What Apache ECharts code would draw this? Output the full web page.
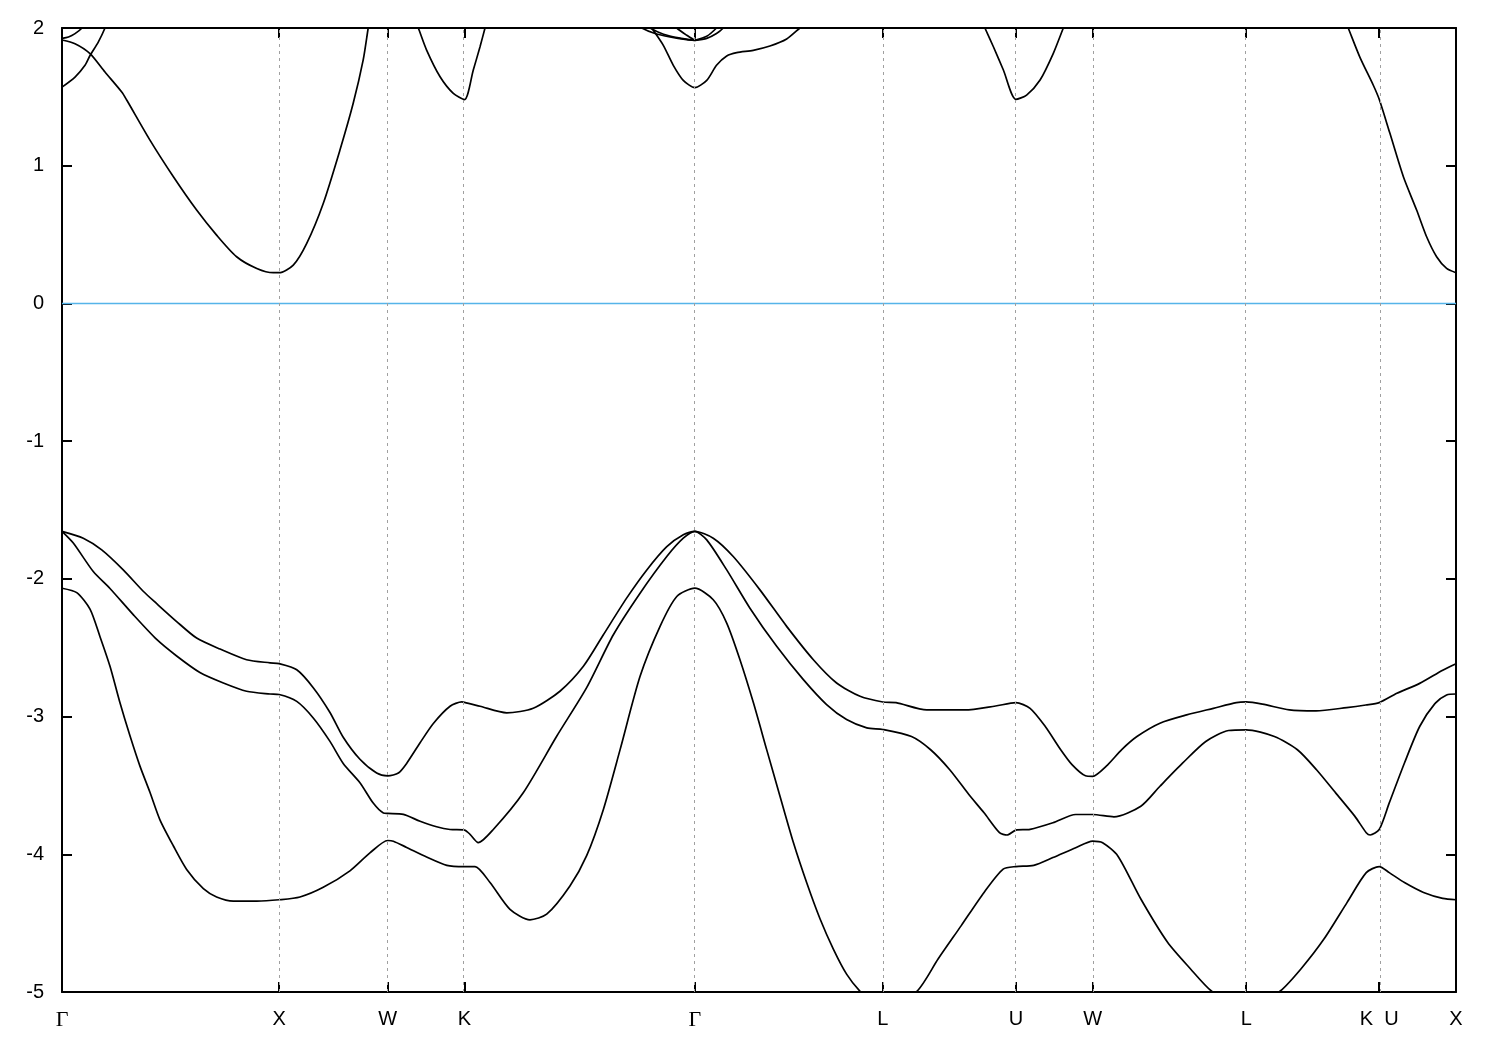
<!DOCTYPE html>
<html><head><meta charset="utf-8">
<script src="https://cdn.jsdelivr.net/npm/echarts@6.0.0/dist/echarts.min.js"></script>
<style>html,body{margin:0;padding:0;background:#fff}#c{width:1500px;height:1050px}</style>
</head><body><div id="c"></div><script>
// High-symmetry k-path positions (2π/a) and labels
const kTicks = [0, 1.0, 1.5, 1.8536, 2.9142, 3.7802, 4.3926, 4.7462, 5.4533, 6.0657, 6.4193];
const kLabels = ['Γ', 'X', 'W', 'K', 'Γ', 'L', 'U', 'W', 'L', 'K  U', 'X'];
const yTicks = [-5, -4, -3, -2, -1, 0, 1, 2];
const fermiLevel = 0;

// Valence bands [k, E(eV)]
const vb1 = [
[0,-1.655],[0.098,-1.705],[0.183,-1.79],[0.282,-1.935],[0.374,-2.09],[0.436,-2.18],[0.528,-2.31],[0.620,-2.43],[0.728,-2.51],[0.850,-2.587],[0.958,-2.61],[1.0,-2.616],
[1.081,-2.66],[1.157,-2.79],[1.234,-2.97],[1.295,-3.15],[1.372,-3.31],[1.449,-3.41],[1.5,-3.43],
[1.549,-3.41],[1.587,-3.34],[1.649,-3.19],[1.710,-3.05],[1.787,-2.925],[1.841,-2.894],[1.8536,-2.897],
[1.925,-2.925],[2.048,-2.973],[2.170,-2.94],[2.293,-2.816],[2.401,-2.635],[2.493,-2.406],[2.600,-2.14],[2.693,-1.935],[2.785,-1.766],[2.861,-1.68],[2.9142,-1.655],
[2.999,-1.705],[3.091,-1.838],[3.214,-2.08],[3.337,-2.345],[3.460,-2.587],[3.567,-2.756],[3.675,-2.853],[3.7802,-2.894],
[3.841,-2.899],[3.982,-2.952],[4.158,-2.952],[4.299,-2.923],[4.3926,-2.899],
[4.458,-2.94],[4.528,-3.072],[4.599,-3.241],[4.651,-3.349],[4.713,-3.43],[4.7462,-3.434],
[4.809,-3.36],[4.880,-3.24],[4.950,-3.145],[5.056,-3.048],[5.179,-2.988],[5.302,-2.94],[5.408,-2.899],[5.4533,-2.894],
[5.528,-2.91],[5.652,-2.952],[5.775,-2.959],[5.916,-2.935],[6.004,-2.916],[6.0657,-2.899],
[6.147,-2.831],[6.252,-2.759],[6.358,-2.663],[6.4193,-2.616]
];
const vb2 = [
[0,-1.655],[0.052,-1.74],[0.144,-1.947],[0.221,-2.07],[0.328,-2.26],[0.436,-2.44],[0.528,-2.56],[0.635,-2.68],[0.743,-2.756],[0.850,-2.816],[0.958,-2.836],[1.0,-2.84],
[1.081,-2.89],[1.157,-3.01],[1.234,-3.18],[1.295,-3.34],[1.372,-3.48],[1.434,-3.63],[1.480,-3.70],[1.5,-3.703],
[1.572,-3.71],[1.649,-3.76],[1.725,-3.80],[1.787,-3.82],[1.8536,-3.824],
[1.879,-3.855],[1.917,-3.915],[1.986,-3.82],[2.124,-3.553],[2.278,-3.143],[2.416,-2.79],[2.539,-2.406],[2.662,-2.104],[2.785,-1.838],[2.861,-1.705],[2.9142,-1.655],
[2.969,-1.717],[3.061,-1.935],[3.168,-2.213],[3.291,-2.49],[3.414,-2.732],[3.521,-2.913],[3.613,-3.022],[3.706,-3.082],[3.7802,-3.094],
[3.912,-3.145],[4.000,-3.241],[4.088,-3.386],[4.176,-3.566],[4.246,-3.699],[4.317,-3.843],[4.352,-3.86],[4.3926,-3.824],
[4.458,-3.819],[4.563,-3.771],[4.668,-3.711],[4.7462,-3.711],
[4.844,-3.728],[4.968,-3.651],[5.056,-3.506],[5.161,-3.337],[5.267,-3.181],[5.372,-3.101],[5.4533,-3.096],
[5.583,-3.145],[5.689,-3.241],[5.777,-3.386],[5.865,-3.554],[5.953,-3.723],[6.006,-3.843],[6.024,-3.86],[6.0657,-3.82],
[6.112,-3.627],[6.182,-3.337],[6.252,-3.072],[6.323,-2.904],[6.376,-2.843],[6.4193,-2.836]
];
const vb3 = [
[0,-2.068],[0.068,-2.10],[0.129,-2.22],[0.175,-2.42],[0.221,-2.635],[0.267,-2.90],[0.313,-3.14],[0.359,-3.36],[0.405,-3.55],[0.451,-3.75],[0.513,-3.94],[0.574,-4.11],[0.651,-4.25],[0.712,-4.31],[0.789,-4.34],[0.897,-4.34],[1.0,-4.33],
[1.096,-4.31],[1.203,-4.24],[1.326,-4.12],[1.418,-3.99],[1.5,-3.90],
[1.526,-3.905],[1.587,-3.95],[1.679,-4.02],[1.772,-4.08],[1.8536,-4.089],
[1.902,-4.089],[1.971,-4.205],[2.063,-4.40],[2.155,-4.476],[2.232,-4.435],[2.339,-4.23],[2.416,-4.01],[2.493,-3.674],[2.570,-3.24],[2.662,-2.708],[2.754,-2.345],[2.831,-2.128],[2.9142,-2.068],
[2.999,-2.152],[3.061,-2.321],[3.122,-2.587],[3.184,-2.90],[3.245,-3.24],[3.306,-3.577],[3.368,-3.915],[3.429,-4.205],[3.491,-4.47],[3.552,-4.688],[3.613,-4.87],[3.675,-4.995],[3.7802,-5.15],
[3.938,-4.993],[4.035,-4.759],[4.141,-4.518],[4.246,-4.277],[4.334,-4.108],[4.3926,-4.089],
[4.475,-4.08],[4.563,-4.024],[4.668,-3.952],[4.7462,-3.904],
[4.792,-3.916],[4.862,-4.012],[4.968,-4.325],[5.091,-4.639],[5.196,-4.831],[5.293,-4.993],[5.4533,-5.15],
[5.610,-4.993],[5.706,-4.831],[5.812,-4.614],[5.918,-4.349],[6.006,-4.133],[6.0657,-4.089],
[6.112,-4.133],[6.182,-4.205],[6.270,-4.277],[6.358,-4.32],[6.4193,-4.33]
];

// Conduction band pieces visible below 2 eV [k, E(eV)]
const cbGammaX = [[0,1.913],[0.060,1.886],[0.129,1.814],[0.198,1.68],[0.275,1.535],[0.298,1.477],[0.405,1.186],[0.513,0.92],[0.620,0.678],[0.712,0.496],[0.804,0.339],[0.897,0.254],[0.973,0.223],[1.0,0.223],[1.065,0.278],[1.127,0.436],[1.203,0.726],[1.280,1.114],[1.341,1.453],[1.387,1.768],[1.410,2.0],[1.420,2.1]];
const cbGammaUp1 = [[0,1.571],[0.060,1.644],[0.106,1.729],[0.129,1.80],[0.167,1.898],[0.198,2.0],[0.207,2.05]];
const cbGammaUp2 = [[0,1.925],[0.030,1.935],[0.060,1.959],[0.092,2.0],[0.101,2.03]];
const cbK = [[1.616,2.1],[1.641,2.0],[1.679,1.84],[1.741,1.646],[1.802,1.525],[1.8536,1.48],[1.894,1.695],[1.925,1.864],[1.948,2.0],[1.957,2.05]];
const cbGammaMid = [[2.680,2.1],[2.716,2.0],[2.769,1.874],[2.815,1.729],[2.861,1.62],[2.9142,1.567],[2.969,1.62],[3.014,1.729],[3.061,1.797],[3.107,1.821],[3.183,1.838],[3.260,1.869],[3.337,1.92],[3.398,2.0],[3.421,2.03]];
const cbMidD1 = [[2.662,2.02],[2.670,2.0],[2.731,1.96],[2.800,1.935],[2.877,1.915],[2.9142,1.91]];
const cbMidD2 = [[2.700,2.02],[2.708,2.0],[2.770,1.955],[2.840,1.928],[2.9142,1.91]];
const cbMidD3 = [[2.825,2.02],[2.831,2.0],[2.877,1.947],[2.9142,1.91]];
const cbMidV = [[2.9142,1.91],[2.9142,2.05]];
const cbMidE1 = [[2.9142,1.91],[2.969,1.925],[3.014,1.96],[3.045,2.0],[3.050,2.02]];
const cbMidE2 = [[2.9142,1.91],[2.969,1.94],[3.014,2.0],[3.020,2.02]];
const cbU = [[4.223,2.1],[4.250,2.0],[4.289,1.864],[4.335,1.695],[4.3926,1.482],[4.442,1.513],[4.504,1.622],[4.565,1.816],[4.611,2.0],[4.623,2.05]];
const cbKX = [[5.897,2.1],[5.923,2.0],[5.977,1.787],[6.038,1.586],[6.0657,1.482],[6.115,1.235],[6.177,0.92],[6.238,0.678],[6.284,0.484],[6.330,0.339],[6.376,0.254],[6.4193,0.223]];

const bandPieces = [vb1, vb2, vb3, cbGammaX, cbGammaUp1, cbGammaUp2, cbK, cbGammaMid, cbMidD1, cbMidD2, cbMidD3, cbMidV, cbMidE1, cbMidE2, cbU, cbKX];

const kMin = kTicks[0], kMax = kTicks[kTicks.length - 1];
const FONT = '"Liberation Sans", Arial, Helvetica, sans-serif';
const SERIF = '"Liberation Serif", "DejaVu Serif", "Times New Roman", serif';
function kLabel(v) {
  let b = 0;
  for (let i = 1; i < kTicks.length; i++) if (Math.abs(kTicks[i] - v) < Math.abs(kTicks[b] - v)) b = i;
  const s = kLabels[b];
  return s === 'Γ' ? '{g|Γ}' : s;
}

const chart = echarts.init(document.getElementById('c'), null, { renderer: 'canvas' });
const axisLine = { show: true, onZero: false, lineStyle: { color: '#000', width: 2 } };
const tickStyle = { show: true, inside: true, length: 10, lineStyle: { color: '#000', width: 2 } };

const series = [{
  type: 'line',
  data: [[kMin, fermiLevel], [kMax, fermiLevel]],
  symbol: 'none', silent: true, z: 1,
  lineStyle: { color: '#56b4e9', width: 1.6 },
  markLine: {
    silent: true, symbol: ['none', 'none'], label: { show: false },
    lineStyle: { color: '#a0a0a0', width: 1, type: [3, 4] },
    data: kTicks.slice(1, -1).map(v => ({ xAxis: v }))
  }
}];
bandPieces.forEach(p => series.push({
  type: 'line', data: p, symbol: 'none', showSymbol: false, silent: true, clip: true, z: 3,
  smooth: 0.25,
  lineStyle: { color: '#000', width: 1.7 }
}));

chart.setOption({
  animation: false,
  backgroundColor: '#fff',
  grid: { left: 62, right: 44, top: 28, bottom: 58, containLabel: false, outerBoundsMode: 'none' },
  xAxis: [{
    type: 'value', min: kMin, max: kMax, position: 'bottom',
    axisLine: axisLine,
    axisTick: Object.assign({ customValues: kTicks }, tickStyle),
    axisLabel: {
      customValues: kTicks, formatter: kLabel, margin: 17, fontSize: 20, color: '#000', fontFamily: FONT,
      showMinLabel: true, showMaxLabel: true,
      rich: { g: { fontFamily: SERIF, fontSize: 22, color: '#000' } }
    },
    splitLine: { show: false }
  }, {
    type: 'value', min: kMin, max: kMax, position: 'top',
    axisLine: axisLine,
    axisTick: Object.assign({ customValues: kTicks }, tickStyle),
    axisLabel: { show: false },
    splitLine: { show: false }
  }],
  yAxis: [{
    type: 'value', min: -5, max: 2, interval: 1, position: 'left',
    axisLine: axisLine, axisTick: tickStyle,
    axisLabel: { customValues: yTicks, margin: 18, fontSize: 20, color: '#000', fontFamily: FONT, showMinLabel: true, showMaxLabel: true },
    splitLine: { show: false }
  }, {
    type: 'value', min: -5, max: 2, interval: 1, position: 'right',
    axisLine: axisLine, axisTick: tickStyle,
    axisLabel: { show: false },
    splitLine: { show: false }
  }],
  series: series
});
</script></body></html>
